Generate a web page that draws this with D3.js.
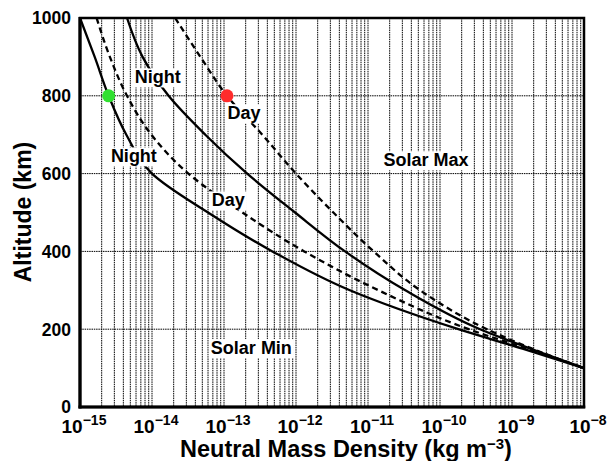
<!DOCTYPE html>
<html lang="en">
<head>
    <meta charset="UTF-8">
    <title>Neutral Mass Density vs Altitude</title>
    <script src="https://d3js.org/d3.v7.min.js"></script>
    <style>
        body { margin: 0; background: #fff; }
        svg { display: block; }
        text { font-family: "Liberation Sans", Arial, Helvetica, sans-serif; font-weight: bold; fill: #000; }
    </style>
</head>
<body>
<svg width="607" height="461"></svg>
<script>
// altitude (km) at which each density value was read
const altitudes = [1000, 900, 800, 700, 600, 500, 400, 300, 200, 150, 100];
// density (kg m^-3) for each curve
const minNight = [1.0e-15, 1.6e-15, 2.5e-15, 4.4e-15, 1.0e-14, 6.0e-14, 4.7e-13, 5.6e-12, 1.8e-10, 1.4e-9, 1.0e-8];
const minDay   = [1.7e-15, 2.6e-15, 4.5e-15, 9.8e-15, 3.2e-14, 1.8e-13, 1.3e-12, 1.4e-11, 2.5e-10, 1.6e-9, 1.0e-8];
const maxNight = [4.5e-15, 7.4e-15, 1.7e-14, 5.5e-14, 2.1e-13, 9.7e-13, 4.8e-12, 3.3e-11, 3.6e-10, 1.8e-9, 1.0e-8];
const maxDay   = [2.1e-14, 4.7e-14, 1.1e-13, 3.4e-13, 1.0e-12, 3.3e-12, 1.2e-11, 5.3e-11, 4.5e-10, 1.9e-9, 1.0e-8];

// coloured markers
const markerDensity = [2.5e-15, 1.1e-13];
const markerAlt = [800, 800];
const markerColor = ["#30e030", "#ff2b2b"];

// axis ticks
const yTicks = [0, 200, 400, 600, 800, 1000];
const xExponents = [-15, -14, -13, -12, -11, -10, -9, -8];

// text labels in data coordinates
const labelText = ["Night", "Night", "Day", "Day", "Solar Max", "Solar Min"];
const labelDensity = [1.2e-14, 5.6e-15, 1.9e-13, 1.15e-13, 6.4e-11, 2.4e-13];
const labelAlt = [848, 645, 756, 532, 635, 152];

const plotL = 80, plotR = 584, plotT = 18, plotB = 407;

const x = d3.scaleLog().domain([1e-15, 1e-8]).range([plotL, plotR]);
const y = d3.scaleLinear().domain([0, 1000]).range([plotB, plotT]);

const svg = d3.select("svg");

// grid
const grid = svg.append("g").attr("stroke", "#000").attr("stroke-width", 1)
    .attr("stroke-dasharray", "1.5,0.8");
const minor = [];
for (let e = -15; e < -8; e++) {
    for (let m = 1; m <= 9; m++) {
        if (e === -15 && m === 1) continue;
        minor.push(m * Math.pow(10, e));
    }
}
grid.selectAll("line.v").data(minor).join("line")
    .attr("class", "v")
    .attr("x1", d => x(d)).attr("x2", d => x(d))
    .attr("y1", plotT).attr("y2", plotB);
grid.selectAll("line.h").data(yTicks.filter(d => d > 0 && d < 1000)).join("line")
    .attr("class", "h")
    .attr("x1", plotL).attr("x2", plotR)
    .attr("y1", d => y(d)).attr("y2", d => y(d));

// curves
const line = d3.line()
    .x(d => x(d[0]))
    .y(d => y(d[1]))
    .curve(d3.curveMonotoneY);

const curves = [
    { values: minNight, dash: null },
    { values: minDay, dash: "6,4" },
    { values: maxNight, dash: null },
    { values: maxDay, dash: "6,4" }
];
svg.append("g").selectAll("path").data(curves).join("path")
    .attr("d", c => line(c.values.map((v, i) => [v, altitudes[i]])))
    .attr("fill", "none")
    .attr("stroke", "#000")
    .attr("stroke-width", 2.3)
    .attr("stroke-dasharray", c => c.dash);

// labels with white backing
const labels = svg.append("g");
labelText.forEach((t, i) => {
    const g = labels.append("g");
    const txt = g.append("text")
        .attr("x", x(labelDensity[i]))
        .attr("y", y(labelAlt[i]))
        .attr("text-anchor", "middle")
        .attr("dy", "0.35em")
        .attr("font-size", 18)
        .text(t);
    const b = txt.node().getBBox();
    g.insert("rect", "text")
        .attr("x", b.x - 2).attr("y", b.y + 1)
        .attr("width", b.width + 4).attr("height", b.height - 1)
        .attr("fill", "#fff");
});

// markers
svg.append("g").selectAll("circle").data(markerDensity).join("circle")
    .attr("cx", d => x(d))
    .attr("cy", (d, i) => y(markerAlt[i]))
    .attr("r", 6.5)
    .attr("fill", (d, i) => markerColor[i]);

// frame
svg.append("rect")
    .attr("x", plotL).attr("y", plotT)
    .attr("width", plotR - plotL).attr("height", plotB - plotT)
    .attr("fill", "none").attr("stroke", "#000").attr("stroke-width", 2.5);
svg.append("line").attr("x1", plotL).attr("x2", plotL).attr("y1", plotT - 1).attr("y2", plotB + 1.5)
    .attr("stroke", "#000").attr("stroke-width", 3.2);
svg.append("line").attr("x1", plotL - 1.5).attr("x2", plotR + 1.25).attr("y1", plotB).attr("y2", plotB)
    .attr("stroke", "#000").attr("stroke-width", 3.2);

// y tick labels
svg.append("g").selectAll("text").data(yTicks).join("text")
    .attr("x", plotL - 9)
    .attr("y", d => y(d))
    .attr("dy", "0.36em")
    .attr("text-anchor", "end")
    .attr("font-size", 17.5)
    .text(d => d);

// x tick labels
const xl = svg.append("g").selectAll("text").data(xExponents).join("text")
    .attr("x", d => x(Math.pow(10, d)) + 4)
    .attr("y", 433)
    .attr("text-anchor", "middle")
    .attr("font-size", 19);
xl.append("tspan").text("10");
xl.append("tspan").attr("dy", -8).attr("font-size", 14).text(d => "\u2212" + Math.abs(d));

// axis titles
const xt = svg.append("text")
    .attr("x", 346).attr("y", 457)
    .attr("text-anchor", "middle")
    .attr("font-size", 23.5);
xt.append("tspan").text("Neutral Mass Density (kg m");
xt.append("tspan").attr("dy", -8).attr("font-size", 15).text("\u22123");
xt.append("tspan").attr("dy", 8).text(")");

svg.append("text")
    .attr("transform", "translate(31," + 212 + ") rotate(-90)")
    .attr("text-anchor", "middle")
    .attr("font-size", 23)
    .text("Altitude (km)");
</script>
</body>
</html>
